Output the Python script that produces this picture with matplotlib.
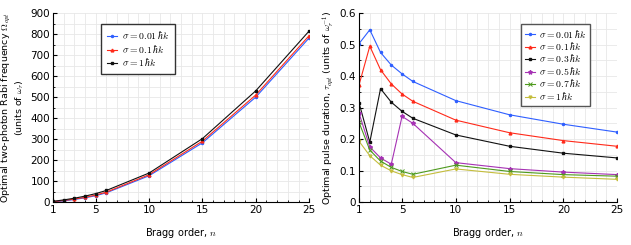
import numpy as np
import matplotlib.pyplot as plt
from matplotlib.ticker import MultipleLocator

plt.rcParams['mathtext.fontset'] = 'cm'
plt.rcParams['font.family'] = 'DejaVu Sans'

# Bragg orders
n = [1, 2, 3, 4, 5, 6, 10, 15, 20, 25]

# left panel: optimal Rabi frequency
rabi_001 = [1, 5, 12, 20, 30, 44, 125, 282, 500, 782]
rabi_01 = [2, 7, 14, 22, 33, 47, 130, 290, 510, 793]
rabi_1 = [3, 10, 18, 28, 40, 55, 138, 302, 530, 815]

# right panel: optimal pulse duration
tau_001 = [0.503, 0.547, 0.475, 0.435, 0.407, 0.383, 0.322, 0.277, 0.247, 0.222]
tau_01 = [0.372, 0.495, 0.420, 0.375, 0.343, 0.320, 0.260, 0.220, 0.195, 0.177]
tau_03 = [0.315, 0.190, 0.360, 0.317, 0.288, 0.266, 0.213, 0.177, 0.155, 0.140]
tau_05 = [0.282, 0.175, 0.140, 0.120, 0.272, 0.250, 0.125, 0.106, 0.095, 0.087]
tau_07 = [0.253, 0.165, 0.130, 0.110, 0.097, 0.088, 0.117, 0.097, 0.087, 0.082]
tau_1 = [0.193, 0.147, 0.117, 0.099, 0.087, 0.078, 0.105, 0.088, 0.079, 0.072]

blue = '#2f5fff'
red = '#ff2a1a'
black = '#111111'
purple = '#a632b4'
green = '#4e9a1e'
yellow = '#c4bd3c'

fig = plt.figure(figsize=(6.31, 2.45), dpi=100)
ax1 = fig.add_axes([0.084, 0.1755, 0.406, 0.771])
ax2 = fig.add_axes([0.569, 0.1755, 0.409, 0.771])


def style(ax):
    ax.spines['top'].set_visible(False)
    ax.spines['right'].set_visible(False)
    ax.spines['left'].set_linewidth(0.8)
    ax.spines['bottom'].set_linewidth(0.8)
    ax.grid(True, which='both', color='#e8e8e8', lw=0.6)
    ax.set_axisbelow(True)
    ax.tick_params(which='both', direction='in', labelsize=7.5, pad=2)
    ax.tick_params(which='major', length=3)
    ax.tick_params(which='minor', length=1.5)
    ax.set_xlim(1, 25)
    ax.set_xticks([1, 5, 10, 15, 20, 25])
    ax.xaxis.set_minor_locator(MultipleLocator(1))
    ax.set_xlabel('Bragg order, $n$', fontsize=7, labelpad=8)


kw = dict(lw=0.8, ms=2)
ax1.plot(n, rabi_001, color=blue, marker='o', ms=1.5, lw=0.8, label=r'$\sigma = 0.01\,\hbar k$')
ax1.plot(n, rabi_01, color=red, marker='^', label=r'$\sigma = 0.1\,\hbar k$', **kw)
ax1.plot(n, rabi_1, color=black, marker='s', label=r'$\sigma = 1\,\hbar k$', **kw)
style(ax1)
ax1.set_ylim(0, 900)
ax1.set_yticks(np.arange(0, 901, 100))
ax1.yaxis.set_minor_locator(MultipleLocator(50))
ax1.set_ylabel('Optimal two-photon Rabi frequency $\\Omega_{opt}$\n(units of $\\omega_r$)',
               fontsize=6.8, labelpad=3, linespacing=1.1)
leg1 = ax1.legend(loc='upper left', bbox_to_anchor=(0.17, 0.97), fontsize=7,
                  fancybox=False, framealpha=1, edgecolor='#333333',
                  handlelength=1.0, handletextpad=0.5, borderpad=0.6, labelspacing=0.15)
leg1.get_frame().set_linewidth(1.0)

ax2.plot(n, tau_001, color=blue, marker='o', ms=1.5, lw=0.8, label=r'$\sigma = 0.01\,\hbar k$')
ax2.plot(n, tau_01, color=red, marker='^', label=r'$\sigma = 0.1\,\hbar k$', **kw)
ax2.plot(n, tau_03, color=black, marker='s', label=r'$\sigma = 0.3\,\hbar k$', **kw)
ax2.plot(n, tau_05, color=purple, marker='*', label=r'$\sigma = 0.5\,\hbar k$', lw=0.8, ms=3)
ax2.plot(n, tau_07, color=green, marker='x', label=r'$\sigma = 0.7\,\hbar k$', lw=0.8, ms=2.5, mew=0.7)
ax2.plot(n, tau_1, color=yellow, marker='v', label=r'$\sigma = 1\,\hbar k$', **kw)
style(ax2)
ax2.set_ylim(0, 0.6)
ax2.set_yticks(np.arange(0, 0.61, 0.1))
ax2.set_yticklabels(['0', '0.1', '0.2', '0.3', '0.4', '0.5', '0.6'])
ax2.yaxis.set_minor_locator(MultipleLocator(0.05))
ax2.set_ylabel('Optimal pulse duration, $\\tau_{opt}$ (units of $\\omega_r^{-1}$)',
               fontsize=6.8, labelpad=3)
leg2 = ax2.legend(loc='upper right', bbox_to_anchor=(0.915, 0.97), fontsize=7,
                  fancybox=False, framealpha=1, edgecolor='#555555',
                  handlelength=1.0, handletextpad=0.5, borderpad=0.4, labelspacing=0.05)
leg2.get_frame().set_linewidth(1.0)

fig.savefig('out.png', dpi=100)
